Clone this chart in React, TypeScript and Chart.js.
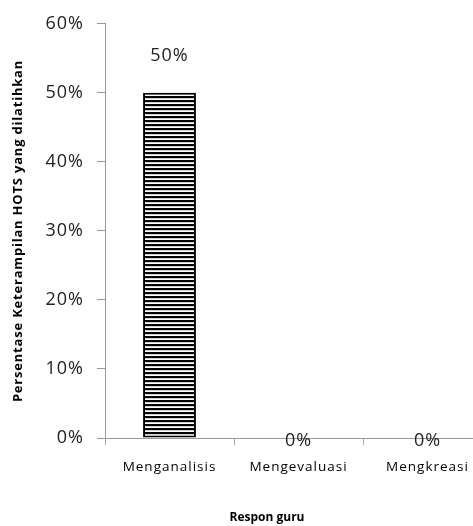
import React, { useEffect, useRef } from "react";
import { Chart, registerables } from "chart.js";

Chart.register(...registerables);

const categories = ["Menganalisis", "Mengevaluasi", "Mengkreasi"];
const values = [50, 0, 0];
const yTicks = [0, 10, 20, 30, 40, 50, 60];
const yTitle = "Persentase Keterampilan HOTS yang dilatihkan";
const xTitle = "Respon guru";

const FONT = "'Open Sans', sans-serif";

function makePattern(): CanvasPattern | string {
  const c = document.createElement("canvas");
  c.width = 4;
  c.height = 4;
  const ctx = c.getContext("2d");
  if (!ctx) return "#000";
  ctx.fillStyle = "#ffffff";
  ctx.fillRect(0, 0, 4, 4);
  ctx.fillStyle = "#000000";
  ctx.fillRect(0, 0, 4, 2);
  ctx.fillStyle = "#999999";
  ctx.fillRect(0, 2, 4, 0.5);
  const p = ctx.createPattern(c, "repeat");
  return p || "#000";
}

const spacingPlugin = {
  id: "spacing",
  beforeDraw(chart: any) {
    (chart.ctx as any).letterSpacing = "1px";
  },
};

const labelPlugin = {
  id: "labels",
  afterDatasetsDraw(chart: any) {
    const ctx = chart.ctx;
    const meta = chart.getDatasetMeta(0);
    ctx.save();
    (ctx as any).letterSpacing = "1px";
    ctx.fillStyle = "#222";
    ctx.font = `18px ${FONT}`;
    ctx.textAlign = "center";
    ctx.textBaseline = "middle";
    meta.data.forEach((bar: any, i: number) => {
      const v = values[i];
      const y = v > 0 ? bar.y - 37 : bar.base + 3;
      ctx.fillText(`${v}%`, bar.x, y);
    });
    // x-axis title
    (ctx as any).letterSpacing = "0px";
    ctx.font = `bold 12px ${FONT}`;
    ctx.fillStyle = "#000";
    ctx.fillText(xTitle, 267, 518);
    // y-axis title
    ctx.save();
    ctx.translate(18, 231);
    ctx.rotate(-Math.PI / 2);
    (ctx as any).letterSpacing = "0.8px";
    ctx.font = `bold 13px ${FONT}`;
    ctx.fillText(yTitle, 0, 0);
    ctx.restore();
    ctx.restore();
  },
};

export default function App() {
  const ref = useRef<HTMLCanvasElement | null>(null);
  useEffect(() => {
    if (!ref.current) return;
    const chart = new Chart(ref.current, {
      type: "bar",
      data: {
        labels: categories,
        datasets: [
          {
            data: values,
            backgroundColor: makePattern() as any,
            borderColor: "#000",
            borderWidth: 2,
            borderSkipped: false,
            categoryPercentage: 1,
            barPercentage: 0.41,
          },
        ],
      },
      options: {
        responsive: false,
        animation: false,
        devicePixelRatio: 1,
        layout: { padding: { top: 20, right: 8, bottom: 0, left: 0 } },
        plugins: {
          legend: { display: false },
          tooltip: { enabled: false },
        },
        scales: {
          x: {
            offset: true,
            grid: {
              offset: true,
              drawOnChartArea: false,
              tickLength: 7,
              color: "#aaa",
            },
            border: { color: "#999", width: 1 },
            ticks: {
              color: "#000",
              font: { family: FONT, size: 13.5 },
              padding: 14,
            },
            afterFit(scale: any) {
              scale.height = 88;
            },
          },
          y: {
            min: 0,
            max: 60,
            afterBuildTicks(scale: any) {
              scale.ticks = yTicks.map((v) => ({ value: v }));
            },
            grid: {
              drawOnChartArea: false,
              tickLength: 8,
              color: "#999",
            },
            border: { color: "#999", width: 1 },
            ticks: {
              color: "#222",
              font: { family: FONT, size: 18 },
              padding: 13,
              callback: (v: any) => `${v}%`,
            },
            afterFit(scale: any) {
              scale.width = 105;
            },
          },
        },
      },
      plugins: [spacingPlugin, labelPlugin],
    });
    return () => chart.destroy();
  }, []);
  return (
    <div
      style={{
        position: "fixed",
        left: 0,
        top: 0,
        width: 473,
        height: 526,
        overflow: "hidden",
        background: "#fff",
      }}
    >
      <canvas ref={ref} width={500} height={526} style={{ display: "block" }} />
    </div>
  );
}
